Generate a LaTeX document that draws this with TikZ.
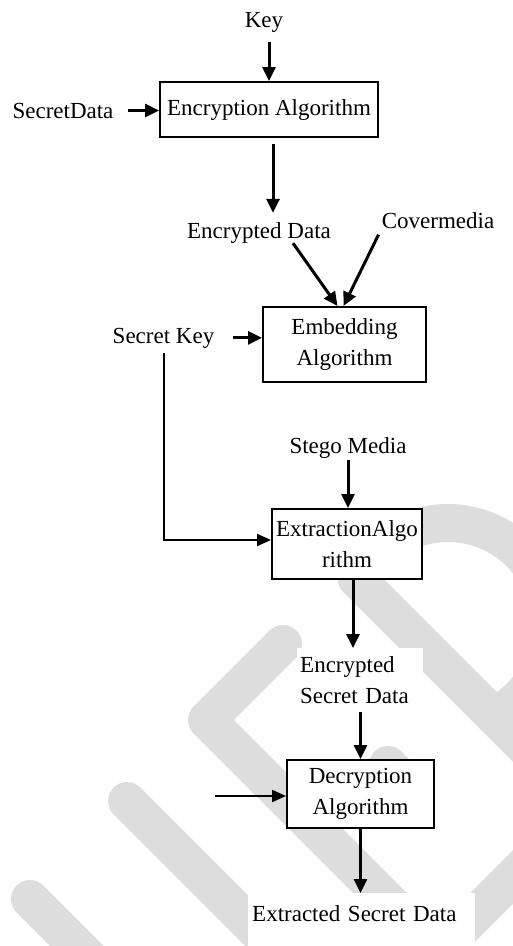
\documentclass[tikz,border=0pt]{standalone}
\usepackage{fontspec}
\setmainfont{Liberation Serif}
\usetikzlibrary{arrows.meta,calc}
\definecolor{wmgray}{RGB}{221,221,221}
\begin{document}
\begin{tikzpicture}[x=1pt,y=-1pt,
  every node/.style={font=\fontsize{23}{31}\selectfont},
  txt/.style={inner sep=0pt, anchor=base},
  algbox/.style={draw, line width=2pt, fill=white, align=center, inner sep=2pt},
  flow/.style={line width=3pt, -{Triangle[length=14pt,width=13pt]}},
  thinflow/.style={line width=2pt, -{Triangle[length=14pt,width=12pt]}},
  wm/.style={draw=wmgray, line width=38pt, line cap=round, line join=round},
  mask/.style={fill=white, inner ysep=0pt, align=left}
]
\useasboundingbox (0,0) rectangle (513,946);
\fill[white] (0,0) rectangle (513,946);

% light grey background strokes
\draw[wm] (30,899) -- (150,1019);
\draw[wm] (127,801) -- (330,1004);
\draw[wm] (283,644) -- (207,720) -- (470,983);
\draw[wm] (357,579) -- (620,842);
\draw[wm] (448,625) ++(-153:102) arc[start angle=-153, end angle=63, radius=102];
\draw[wm] (420,970) -- (560,830);
\draw[wm] (388,765) -- (416,793);

% processing blocks
\node[algbox, minimum width=218, minimum height=55] (enc) at (269,109.5) {Encryption Algorithm};
\node[algbox, minimum width=163, minimum height=75] (emb) at (344.5,344.5) {Embedding\\Algorithm};
\node[algbox, minimum width=150, minimum height=70] (ext) at (347,544) {ExtractionAlgo\\rithm};
\node[algbox, minimum width=147, minimum height=68] (dec) at (360.5,794) {Decryption\\Algorithm};

% data labels
\node[txt] (key) at (264,27) {Key};
\node[txt] (sd) at (63,118) {SecretData};
\node[txt] (ed) at (259,238) {Encrypted Data};
\node[txt] (cm) at (438,228) {Covermedia};
\node[txt] (sk) at (163.5,343) {Secret Key};
\node[txt] (sm) at (348,453) {Stego Media};
\node[mask, anchor=north west, text width=120pt, inner xsep=3pt, inner ysep=8pt] (esd) at (297,648) {Encrypted\\Secret Data};
\node[mask, anchor=north west, text width=219pt, inner xsep=4pt, text height=28pt, text depth=25pt] (xsd) at (248,893) {Extracted Secret Data};
\coordinate (din) at (215,796);

% connectors
\draw[flow, shorten <=10pt] (key.south -| enc.north) -- (enc.north);
\draw[flow, shorten <=14pt] (sd.east) -- (sd.east -| enc.west);
\draw[flow, shorten <=6pt, shorten >=9pt] ([xshift=4pt]enc.south) -- ([xshift=4pt]enc.south |- ed.north);
\draw[flow] ([xshift=34pt]ed.south) -- ([xshift=-7pt]emb.north);
\draw[flow, shorten <=7pt] (cm.south west) -- ([xshift=-1pt]emb.north);
\draw[flow, shorten <=19pt] (sk.east) -- (sk.east -| emb.west);
\draw[thinflow, shorten <=5pt] (sk.south) |- ([yshift=4pt]ext.west);
\draw[flow, shorten <=2pt] (sm.south) -- (sm.south |- ext.north);
\draw[flow] ([xshift=6pt]ext.south) -- ([xshift=6pt]ext.south |- esd.north);
\draw[flow] (esd.south -| dec.north) -- (dec.north);
\draw[thinflow] (din) -- (din -| dec.west);
\draw[flow] (dec.south) -- (dec.south |- xsd.north);
\end{tikzpicture}
\end{document}
